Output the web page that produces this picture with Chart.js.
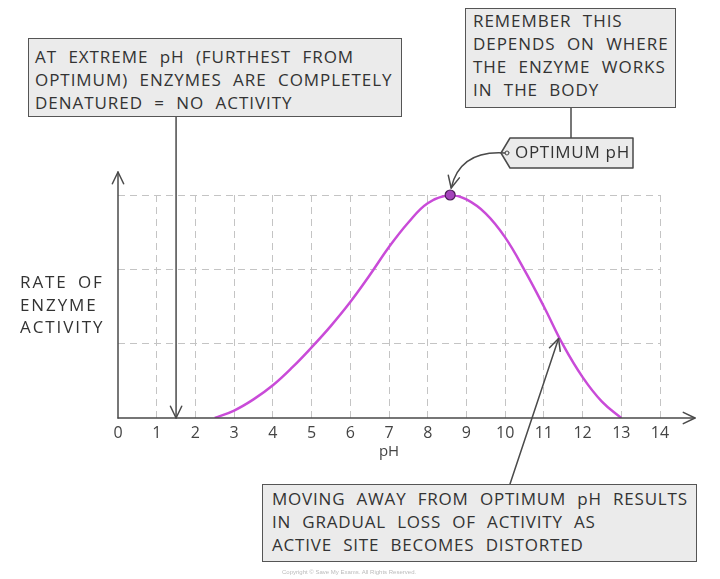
<!DOCTYPE html>
<html>
<head>
<meta charset="utf-8">
<script src="https://cdn.jsdelivr.net/npm/chart.js@4.4.0/dist/chart.umd.min.js"></script>
<style>
  html, body { margin: 0; padding: 0; background: #fff; }
  #wrap { position: relative; width: 720px; height: 579px; overflow: hidden; font-family: "Open Sans", sans-serif; color: #333; }
  #chart { position: absolute; left: 0; top: 0; }
  .box { position: absolute; background: #ebebeb; border: 1.5px solid #555; box-sizing: border-box;
         font-size: 17px; line-height: 23px; letter-spacing: 0.95px; word-spacing: 6px; white-space: nowrap; }
  .lbl { position: absolute; font-size: 17px; line-height: 22.5px; letter-spacing: 1.9px; word-spacing: 4px; white-space: nowrap; }
  #copy { position: absolute; left: 282px; top: 569px; font-size: 6px; color: #bbb; font-family: "Liberation Sans", sans-serif; }
</style>
</head>
<body>
<div id="wrap">
  <canvas id="chart" width="720" height="579"></canvas>
  <div class="box" style="left:28px;top:38px;width:374px;height:79px;padding:6px 0 0 6px;">AT EXTREME pH (FURTHEST FROM<br>OPTIMUM) ENZYMES ARE COMPLETELY<br>DENATURED = NO ACTIVITY</div>
  <div class="box" style="left:465px;top:8px;width:211px;height:100px;padding:0 0 0 7px;">REMEMBER THIS<br>DEPENDS ON WHERE<br>THE ENZYME WORKS<br>IN THE BODY</div>
  <div class="box" style="left:262px;top:484px;width:435px;height:78px;padding:2px 0 0 9px;letter-spacing:0.8px;">MOVING AWAY FROM OPTIMUM pH RESULTS<br>IN GRADUAL LOSS OF ACTIVITY AS<br>ACTIVE SITE BECOMES DISTORTED</div>
  <div class="lbl" style="left:515px;top:141px;letter-spacing:0.7px;word-spacing:0;">OPTIMUM pH</div>
  <div class="lbl" style="left:20px;top:271px;">RATE OF<br>ENZYME<br>ACTIVITY</div>
  <div id="copy">Copyright © Save My Exams. All Rights Reserved.</div>
</div>
<script>
// values
const phValues = [2.5, 3, 3.5, 4, 4.5, 5, 5.5, 6, 6.5, 7, 7.5, 8, 8.58, 9, 9.5, 10, 10.5, 11, 11.5, 12, 12.5, 13];
const activity = [0, 0.1, 0.25, 0.44, 0.68, 0.95, 1.24, 1.56, 1.92, 2.3, 2.63, 2.89, 3.0, 2.94, 2.75, 2.43, 1.99, 1.5, 0.98, 0.55, 0.22, 0];
const optimumPh = 8.58;
const optimumRate = 3.0;
const xTickValues = [0, 1, 2, 3, 4, 5, 6, 7, 8, 9, 10, 11, 12, 13, 14];

const ink = '#4a4a4a';

// draws a line with an open V head at (x2, y2)
function arrowLine(ctx, x1, y1, x2, y2) {
    ctx.beginPath();
    ctx.moveTo(x1, y1);
    ctx.lineTo(x2, y2);
    ctx.stroke();
    arrowHead(ctx, x2, y2, Math.atan2(y2 - y1, x2 - x1));
}

function arrowHead(ctx, x, y, ang) {
    const len = 13, spread = 0.45;
    ctx.beginPath();
    ctx.moveTo(x - len * Math.cos(ang - spread), y - len * Math.sin(ang - spread));
    ctx.lineTo(x, y);
    ctx.lineTo(x - len * Math.cos(ang + spread), y - len * Math.sin(ang + spread));
    ctx.stroke();
}

const sketchPlugin = {
    id: 'sketch',
    afterDraw(chart) {
        const ctx = chart.ctx;
        const xs = chart.scales.x, ys = chart.scales.y;
        const left = xs.getPixelForValue(0), base = ys.getPixelForValue(0);
        ctx.save();
        ctx.strokeStyle = ink;
        ctx.lineWidth = 1.5;
        ctx.lineJoin = 'round';
        ctx.lineCap = 'round';

        // axes with arrows
        arrowLine(ctx, left, base, left, 172);
        arrowLine(ctx, left, base, 695, base);

        // extreme pH arrow
        const xe = xs.getPixelForValue(1.5);
        arrowLine(ctx, xe, 117, xe, base);

        // moving away arrow
        arrowLine(ctx, 510, 484, xs.getPixelForValue(11.38), ys.getPixelForValue(1.07));

        // connector remember -> optimum tag
        ctx.beginPath();
        ctx.moveTo(571, 108);
        ctx.lineTo(571, 138);
        ctx.stroke();

        // optimum pH tag
        ctx.fillStyle = '#ebebeb';
        ctx.beginPath();
        ctx.moveTo(501, 153);
        ctx.lineTo(510, 138);
        ctx.lineTo(633, 138);
        ctx.lineTo(633, 168);
        ctx.lineTo(510, 168);
        ctx.closePath();
        ctx.fill();
        ctx.stroke();
        ctx.lineWidth = 1;
        ctx.beginPath();
        ctx.arc(507, 153, 2, 0, Math.PI * 2);
        ctx.stroke();

        // curved arrow to the peak
        ctx.lineWidth = 1.5;
        const px = xs.getPixelForValue(optimumPh) + 1, py = ys.getPixelForValue(optimumRate) - 7;
        ctx.beginPath();
        ctx.moveTo(505, 153);
        ctx.quadraticCurveTo(460, 150, px, py);
        ctx.stroke();
        arrowHead(ctx, px, py, Math.atan2(py - 150, px - 460));
        ctx.restore();
    }
};

new Chart(document.getElementById('chart'), {
    type: 'line',
    data: {
        datasets: [
            {
                data: phValues.map((p, i) => ({ x: p, y: activity[i] })),
                borderColor: '#c94bd8',
                borderWidth: 2.5,
                pointRadius: 0,
                tension: 0.4,
                fill: false,
                order: 2
            },
            {
                data: [{ x: optimumPh, y: optimumRate }],
                pointRadius: 5,
                pointBackgroundColor: '#a444bb',
                pointBorderColor: '#4a1d55',
                pointBorderWidth: 1.2,
                showLine: false,
                clip: false,
                order: 1
            }
        ]
    },
    options: {
        responsive: false,
        animation: false,
        layout: { padding: { left: 118, right: 60, top: 195, bottom: 116 } },
        plugins: { legend: { display: false }, tooltip: { enabled: false } },
        scales: {
            x: {
                type: 'linear',
                min: 0, max: 14,
                afterFit(scale) { scale.height = 45; },
                afterBuildTicks(scale) { scale.ticks = xTickValues.map(v => ({ value: v })); },
                ticks: { color: '#444', font: { family: 'Open Sans', size: 16 }, padding: 6 },
                grid: {
                    drawTicks: false,
                    color: c => c.tick && c.tick.value === 0 ? 'rgba(0,0,0,0)' : '#c4c4c4',
                    lineWidth: 1
                },
                border: { display: false, dash: [7, 5] },
                title: { display: true, text: 'pH', color: '#444', font: { family: 'Open Sans', size: 15 }, padding: { top: 0, bottom: 2 } }
            },
            y: {
                min: 0, max: 3,
                afterFit(scale) { scale.width = 0; },
                ticks: { display: false, stepSize: 1 },
                grid: {
                    drawTicks: false,
                    color: c => c.tick && c.tick.value === 0 ? 'rgba(0,0,0,0)' : '#c4c4c4',
                    lineWidth: 1
                },
                border: { display: false, dash: [7, 5] }
            }
        }
    },
    plugins: [sketchPlugin]
});
</script>
</body>
</html>
